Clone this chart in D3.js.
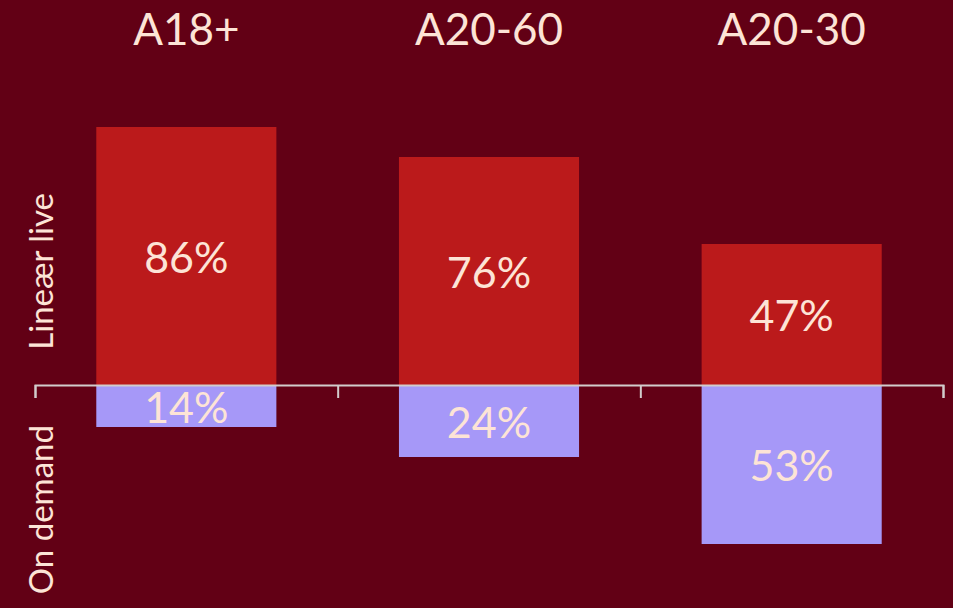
<!DOCTYPE html>
<html><head><meta charset="utf-8">
<script src="https://cdn.jsdelivr.net/npm/d3@7"></script>
<style>
html,body{margin:0;padding:0;background:#620015;overflow:hidden}
svg{display:block}
text{font-family:Lato,"Noto Sans",sans-serif;fill:#fde4d6}
</style></head><body>
<script>
const categories = ["A18+", "A20-60", "A20-30"];
const linearLive = [86, 76, 47];
const onDemand = [14, 24, 53];
const seriesLabels = ["Lineær live", "On demand"];

const W = 953, H = 608;
const svg = d3.select("body").append("svg").attr("width", W).attr("height", H);
svg.append("rect").attr("width", W).attr("height", H).attr("fill", "#620015");

const x = d3.scaleBand().domain(categories).range([35, 943]).paddingInner(0.405).paddingOuter(0.2025);
const y = d3.scaleLinear().domain([0, 100]).range([385, 85]);

svg.selectAll("rect.live").data(categories).join("rect")
  .attr("class", "live")
  .attr("x", d => x(d)).attr("width", x.bandwidth())
  .attr("y", (d, i) => y(linearLive[i]))
  .attr("height", (d, i) => y(0) - y(linearLive[i]))
  .attr("fill", "#bb1a1b");

svg.selectAll("rect.od").data(categories).join("rect")
  .attr("class", "od")
  .attr("x", d => x(d)).attr("width", x.bandwidth())
  .attr("y", y(0))
  .attr("height", (d, i) => y(-onDemand[i]) - y(0))
  .attr("fill", "#a698f8");

const xa = d3.scaleLinear().domain([0, 3]).range([35, 943]);
const axis = svg.append("g").attr("transform", `translate(0,${y(0)})`)
  .call(d3.axisBottom(xa).tickValues([0, 1, 2, 3]).tickFormat("").tickSize(13).tickSizeOuter(13));
axis.selectAll("path,line").attr("stroke", "#d2cccc").attr("stroke-width", 2);

svg.selectAll("text.lv").data(categories).join("text")
  .attr("x", d => x(d) + x.bandwidth() / 2)
  .attr("y", (d, i) => (y(linearLive[i]) + y(0)) / 2)
  .attr("text-anchor", "middle").attr("dominant-baseline", "central")
  .style("font-size", "43px")
  .text((d, i) => linearLive[i] + "%");

svg.selectAll("text.odv").data(categories).join("text")
  .attr("x", d => x(d) + x.bandwidth() / 2)
  .attr("y", (d, i) => (y(-onDemand[i]) + y(0)) / 2)
  .attr("text-anchor", "middle").attr("dominant-baseline", "central")
  .style("font-size", "43px")
  .text((d, i) => onDemand[i] + "%");

svg.selectAll("text.cat").data(categories).join("text")
  .attr("x", d => x(d) + x.bandwidth() / 2)
  .attr("y", 45)
  .attr("text-anchor", "middle")
  .style("font-size", "44px")
  .text(d => d);

svg.append("text")
  .attr("transform", "translate(53,193) rotate(-90)")
  .attr("text-anchor", "end")
  .style("font-size", "33px")
  .text(seriesLabels[0]);
svg.append("text")
  .attr("transform", "translate(53,425) rotate(-90)")
  .attr("text-anchor", "end")
  .style("font-size", "33px")
  .text(seriesLabels[1]);
</script>
</body></html>
